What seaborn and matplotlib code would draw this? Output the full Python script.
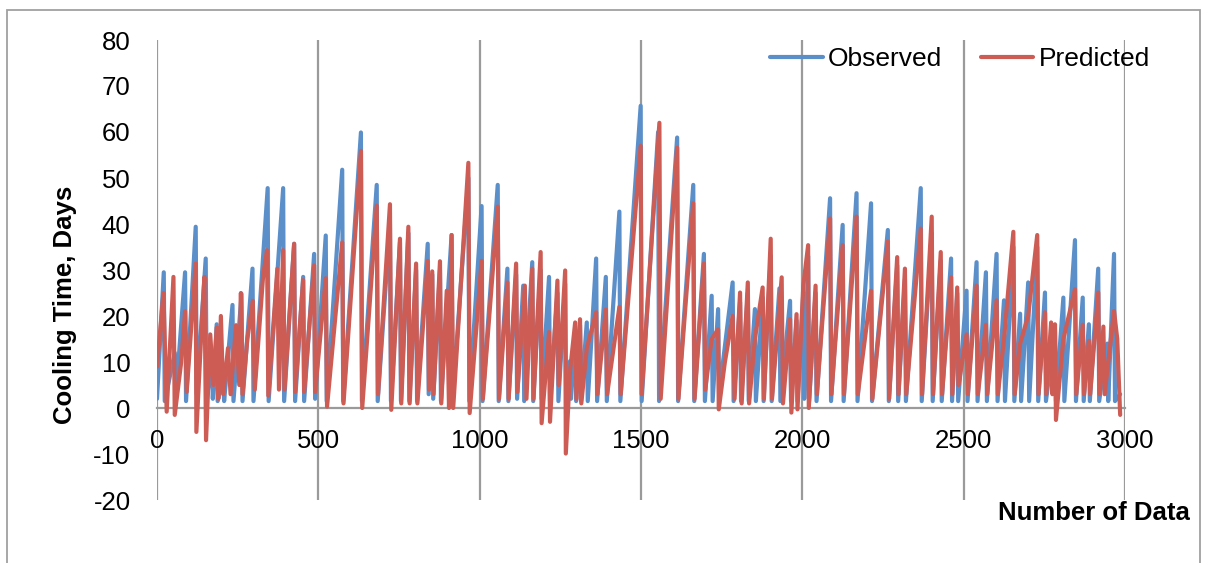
import matplotlib
matplotlib.use("Agg")
import matplotlib.pyplot as plt
import seaborn as sns
import pandas as pd
from matplotlib.patches import Rectangle

# ---------------- data (vertices) ----------------
observed_x = [0, 21, 24, 55, 58, 87, 90, 120, 123, 151, 154, 170, 173, 185, 188, 205, 208,
              234, 237, 262, 265, 296, 299, 343, 346, 391, 394, 425, 428, 453, 456, 487, 490,
              523, 526, 574, 577, 632, 635, 681, 684, 722, 725, 753, 756, 779, 782, 803, 806,
              839, 842, 853, 856, 877, 880, 913, 916, 965, 968, 1006, 1009, 1056, 1059, 1086,
              1089, 1113, 1116, 1135, 1138, 1163, 1166, 1189, 1192, 1215, 1218, 1241, 1244,
              1265, 1268, 1280, 1283, 1296, 1299, 1311, 1314, 1332, 1335, 1361, 1364, 1391,
              1394, 1433, 1436, 1499, 1502, 1553, 1556, 1612, 1615, 1662, 1665, 1695, 1698,
              1719, 1722, 1739, 1742, 1784, 1787, 1807, 1810, 1831, 1834, 1853, 1856, 1877,
              1880, 1902, 1905, 1929, 1932, 1962, 1965, 1982, 1985, 2003, 2006, 2018, 2021,
              2041, 2044, 2086, 2089, 2125, 2128, 2168, 2171, 2213, 2216, 2265, 2268, 2294,
              2297, 2318, 2321, 2367, 2370, 2401, 2404, 2429, 2432, 2461, 2464, 2480, 2483,
              2509, 2512, 2540, 2543, 2569, 2572, 2602, 2605, 2625, 2628, 2654, 2657, 2675,
              2678, 2700, 2703, 2728, 2731, 2752, 2755, 2783, 2786, 2809, 2812, 2845, 2848,
              2869, 2872, 2888, 2891, 2917, 2920, 2945, 2948, 2966, 2969, 2985]
observed_y = [2, 29.5, 1.5, 12, 2, 29.5, 1.5, 39.4, 3, 32.5, 2, 10, 2, 18.2, 1.5, 8, 1.5,
              22.4, 1.5, 24.8, 1.5, 30.3, 1.5, 47.8, 1.5, 47.8, 1.5, 35.7, 1.5, 28.5, 1.5, 33.5, 2,
              37.5, 1.5, 51.8, 1.5, 59.9, 1.5, 48.5, 1.5, 40, 1.5, 36, 1.5, 38, 1.5, 30, 1.5,
              35.7, 3, 29, 2, 30, 1.5, 37.6, 1.5, 50, 1.5, 43.9, 1.5, 48.5, 1.5, 30.3,
              1.5, 29, 2, 26.6, 1.5, 31.7, 1.5, 30, 2, 28.5, 1.5, 25, 1.5,
              27, 2, 10.2, 2, 17, 1.5, 18, 1.5, 18.6, 1.5, 32.5, 1.5, 28.5,
              1.5, 42.7, 1.5, 65.7, 1.5, 60, 1.5, 58.8, 1.5, 48.5, 1.5, 33.5, 1.5,
              24.4, 1.5, 21.5, 3, 27.3, 1.5, 23, 1.5, 25, 1.5, 21.5, 1.5, 24,
              1.5, 33, 1.5, 26, 1.5, 23.3, 1.5, 19, 1.5, 25, 2, 33, 1.5,
              25, 1.5, 45.6, 1.5, 39.8, 1.5, 46.7, 1.5, 44.5, 1.5, 38.7, 1.5, 31,
              1.5, 28, 1.5, 47.8, 1.5, 38, 1.5, 32, 1.5, 32.5, 1.5, 25, 1.5,
              25.5, 1.5, 31.7, 1.5, 29.5, 1.5, 33.5, 1.5, 23.4, 1.5, 35, 1.5, 20.5,
              1.5, 27.3, 1.5, 35, 1.5, 25.1, 1.5, 17, 1.5, 24, 1.5, 36.5, 1.5,
              24, 1.5, 18.2, 1.5, 30.3, 1.5, 14, 1.5, 33.5, 1.5, 3]

predicted_x = [0, 20, 30, 51, 55, 75, 87, 92, 120, 122, 140, 147, 152, 165, 175, 185, 190, 198,
               205, 220, 228, 245, 255, 260, 265, 280, 297, 303, 329, 341, 345, 373, 378, 391,
               395, 425, 428, 453, 456, 487, 490, 523, 527, 574, 578, 632, 636, 681, 685, 722,
               726, 753, 757, 779, 783, 803, 807, 839, 843, 853, 857, 877, 881, 898, 905, 913,
               918, 965, 969, 1006, 1010, 1056, 1060, 1086, 1090, 1113, 1117, 1140, 1145, 1163,
               1167, 1189, 1192, 1215, 1218, 1241, 1245, 1265, 1267, 1280, 1296, 1300, 1311,
               1315, 1332, 1361, 1365, 1391, 1395, 1433, 1437, 1499, 1502, 1557, 1561, 1612,
               1616, 1662, 1666, 1695, 1699, 1719, 1739, 1741, 1760, 1784, 1790, 1807, 1812,
               1831, 1835, 1853, 1877, 1881, 1902, 1906, 1936, 1940, 1962, 1966, 1982, 1985,
               2003, 2018, 2020, 2041, 2045, 2086, 2090, 2125, 2129, 2168, 2172, 2213, 2217,
               2265, 2269, 2294, 2298, 2318, 2322, 2367, 2371, 2401, 2405, 2429, 2433, 2461,
               2465, 2480, 2484, 2509, 2513, 2540, 2544, 2569, 2573, 2602, 2606, 2625, 2654,
               2658, 2675, 2700, 2728, 2732, 2752, 2756, 2771, 2775, 2783, 2786, 2809, 2845,
               2849, 2869, 2873, 2888, 2892, 2917, 2921, 2933, 2937, 2966, 2976, 2985]
predicted_y = [9, 25, -0.8, 28.5, -1.5, 10, 21, 3.5, 31.4, -5.2, 20, 28.5, -7, 16, 5, 17.5, 2, 20,
               3, 13, 3, 18, 5, 25, 3, 15, 23.3, 4, 28.8, 34.3, 2.7, 30.3, 4, 34.3,
               4, 35.7, 3.5, 27.8, 3.5, 31, 3.5, 28.2, 0.3, 36, 1, 55.9, 0, 44, 3, 44.3,
               -0.4, 36.8, 1, 39.4, 1, 31.4, 1, 32, 4, 29.7, 3, 31.9, 1, 25.5, 0, 37.6,
               0, 53.3, -1.1, 32, 2, 43.8, 2, 27.3, 2, 31.4, 3.5, 26.6, 2, 30.3,
               2, 33.9, -3.3, 16.5, -3, 27.7, 5, 29.9, -9.9, 8, 18.6, 2, 19.3,
               1, 13, 20.8, 3, 21.4, 3, 22, 3, 57, 3, 62, 2, 56.6,
               2, 44.5, 2, 31.4, 4, 15, 17.1, -0.3, 10, 20, 2, 25.1, 1,
               27.3, 1, 15, 26.2, 2, 36.8, 2, 28.4, 1, 19.3, -1, 20.4, -0.3,
               26.6, 35.4, 0, 26.6, 3, 41.2, 3, 35.4, 3, 41.6, 3, 25.5, 2,
               36.2, 2, 32.8, 3, 30.3, 3, 39, 3, 41.6, 3, 33.9, 3, 28.4,
               3, 26.2, 5, 16, 3, 26.6, 3, 18.1, 3, 23.4, 3, 15, 38.3,
               3, 14, 20, 37.6, 3, 20.8, 3, 18.6, 3, 18.2, -2.6, 15, 25.8,
               3, 18.1, 3, 14.6, 3, 25.1, 3, 17.7, 3, 21.1, 15, -1.5]

x_ticks = [0, 500, 1000, 1500, 2000, 2500, 3000]
y_ticks = [-20, -10, 0, 10, 20, 30, 40, 50, 60, 70, 80]

series_names = ["Observed", "Predicted"]
series_colors = ["#5B8FC9", "#CD5C55"]

# ---------------- figure ----------------
sns.set_theme(style="white")
plt.rcParams["font.family"] = ["Liberation Sans", "DejaVu Sans"]
plt.rcParams["text.color"] = "black"
plt.rcParams["xtick.color"] = "black"
plt.rcParams["ytick.color"] = "black"

W, H = 1206, 563
fig = plt.figure(figsize=(W / 100, H / 100), dpi=100)
ax = fig.add_axes([157 / W, 1 - 500 / H, (1125 - 157) / W, (500 - 40) / H])

obs_df = pd.DataFrame({"x": observed_x, "y": observed_y})
pred_df = pd.DataFrame({"x": predicted_x, "y": predicted_y})

sns.lineplot(data=obs_df, x="x", y="y", ax=ax, color=series_colors[0], lw=3.0,
             label=series_names[0], estimator=None, sort=False)
sns.lineplot(data=pred_df, x="x", y="y", ax=ax, color=series_colors[1], lw=3.0,
             label=series_names[1], estimator=None, sort=False)

grid_c = "#9A9A9A"
ax.grid(False)
for s in ["top", "right", "left"]:
    ax.spines[s].set_visible(False)
ax.spines["bottom"].set_position(("data", 0))
ax.spines["bottom"].set_color(grid_c)
ax.spines["bottom"].set_linewidth(1.6)
ax.spines["bottom"].set_zorder(0.5)

ax.set_xlim(0, 3000)
ax.set_ylim(-20, 80)
ax.set_xticks(x_ticks)
ax.set_yticks(y_ticks)
ax.set_xticklabels([str(v) for v in x_ticks])
ax.set_yticklabels([str(v) for v in y_ticks])
ax.tick_params(axis="x", length=0, pad=15, labelsize=18.5, labelcolor="black")
ax.tick_params(axis="y", length=0, pad=19, labelsize=18.5, labelcolor="black")
for xv in x_ticks:
    ax.axvline(xv, color=grid_c, lw=1.6, zorder=0)

ax.set_xlabel("")
ax.set_ylabel("")
fig.text(65 / W, 1 - 305 / H, "Cooling Time, Days", rotation=90, fontsize=18.5,
         fontweight="bold", ha="center", va="center", color="black")
fig.text(1190 / W, 1 - 513 / H, "Number of Data", fontsize=18.5, fontweight="bold",
         ha="right", va="center", color="black")

leg = ax.legend(loc="center right", bbox_to_anchor=(1150 / W, 1 - 59 / H),
                bbox_transform=fig.transFigure, ncol=2, frameon=False, fontsize=19,
                handlelength=2.0, handletextpad=0.2, columnspacing=1.45,
                borderpad=0, borderaxespad=0)
for line in leg.get_lines():
    line.set_linewidth(3.0)
for t in leg.get_texts():
    t.set_color("black")

fig.add_artist(Rectangle((7 / W, -0.2), (1200 - 7) / W, 1.2 - 10 / H,
                         transform=fig.transFigure, fill=False, edgecolor="#A0A0A0", lw=1.3))

fig.savefig("out.png", dpi=100)
